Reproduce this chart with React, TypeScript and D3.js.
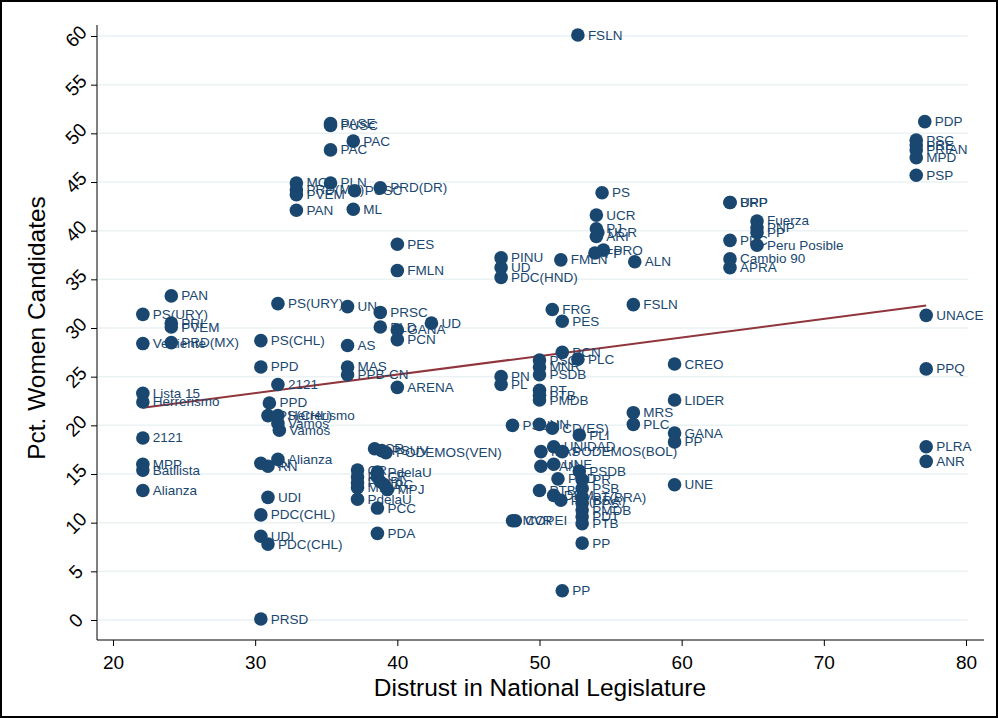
import React, { useEffect, useRef } from 'react';
import * as d3 from 'd3';

// party labels, distrust in legislature (x) and % women candidates (y)
const parties = [
  'PS(URY)', 'Vertiente', 'Lista 15', 'Herrerismo', '2121', 'MPP', 'Batllista', 'Alianza',
  'PAN', 'PRI', 'PVEM', 'PRD(MX)',
  'PS(CHL)', 'PPD', 'PDC(CHL)', 'UDI', 'PRSD', 'RN',
  'UDI', 'PDC(CHL)', 'PPD', 'PS(CHL)', 'RN',
  '2121', 'Alianza', 'PS(URY)', 'Herrerismo', 'Vamos', 'Vamos',
  'UN', 'AS', 'MAS', 'PPB-CN',
  'MC', 'PRD(MX)', 'PVEM', 'PAN',
  'PASE', 'PUSC', 'PAC', 'PLN', 'PAC', 'ML', 'PUSC',
  'PRD(DR)', 'PES', 'FMLN', 'PRSC', 'PLD', 'GANA', 'PCN', 'ARENA', 'UD',
  'CR', 'PSUV', 'PODEMOS(VEN)',
  'CR', 'PL', 'PC', 'MIRA', 'PdelaU', 'PdelaU', 'CR', 'PL', 'PC', 'MPJ', 'PCC', 'PDA',
  'PINU', 'UD', 'PDC(HND)', 'PN', 'PL',
  'FMLN', 'PS', 'UCR', 'PJ', 'UCR', 'ARI', 'FP', 'PRO', 'ALN',
  'FSLN', 'FSLN', 'FRG', 'PES', 'PCN', 'PLC',
  'PSC', 'MNR', 'PSDB', 'PT', 'PTB', 'PMDB',
  'PSUN', 'UN', 'CD(ES)', 'PLI', 'MAS', 'UNIDAD', 'PODEMOS(BOL)',
  'PAN', 'UNE', 'PRD', 'PSDB', 'PTB', 'DEM', 'PP(BRA)',
  'PR', 'PSB', 'PT(BRA)', 'PPS', 'PMDB', 'PDT', 'PTB', 'PP', 'PP',
  'MVR', 'COPEI',
  'CREO', 'LIDER', 'MRS', 'PLC', 'GANA', 'PP', 'UNE',
  'UPP', 'BRP', 'Fuerza', 'PNP', 'PP', 'PPC', 'Peru Posible', 'Cambio 90', 'APRA',
  'PDP', 'PSC', 'PRE', 'PRIAN', 'MPD', 'PSP',
  'UNACE', 'PPQ', 'PLRA', 'ANR'
];

const distrust = [
  22.1, 22.1, 22.1, 22.1, 22.1, 22.1, 22.1, 22.1,
  24.1, 24.1, 24.1, 24.1,
  30.4, 30.4, 30.4, 30.4, 30.4, 30.4,
  30.9, 30.9, 31.0, 30.9, 30.9,
  31.6, 31.6, 31.6, 31.6, 31.6, 31.7,
  36.5, 36.5, 36.5, 36.5,
  32.9, 32.9, 32.9, 32.9,
  35.3, 35.3, 35.3, 35.3, 36.9, 36.9, 37.0,
  38.8, 40.0, 40.0, 38.8, 38.8, 40.0, 40.0, 40.0, 42.4,
  38.4, 38.9, 39.2,
  37.2, 37.2, 37.2, 37.2, 37.2, 38.6, 38.6, 38.8, 39.1, 39.3, 38.6, 38.6,
  47.3, 47.3, 47.3, 47.3, 47.3,
  51.5, 54.4, 54.0, 54.0, 54.1, 54.0, 53.9, 54.5, 56.7,
  52.7, 56.6, 50.9, 51.6, 51.6, 52.7,
  50.0, 50.0, 50.0, 50.0, 50.0, 50.0,
  48.1, 50.0, 50.9, 52.8, 50.1, 51.0, 51.6,
  50.1, 51.0, 51.3, 52.8, 50.0, 51.0, 51.5,
  53.0, 53.0, 53.0, 53.0, 53.0, 53.0, 53.0, 53.0, 51.6,
  48.1, 48.3,
  59.5, 59.5, 56.6, 56.6, 59.5, 59.5, 59.5,
  63.4, 63.4, 65.3, 65.3, 65.3, 63.4, 65.3, 63.4, 63.4,
  77.1, 76.5, 76.5, 76.5, 76.5, 76.5,
  77.2, 77.2, 77.2, 77.2
];

const pctWomen = [
  31.4, 28.4, 23.3, 22.4, 18.7, 16.0, 15.4, 13.3,
  33.3, 30.5, 30.1, 28.5,
  28.7, 26.0, 10.8, 8.6, 0.1, 16.1,
  12.6, 7.8, 22.3, 21.0, 15.8,
  24.2, 16.5, 32.5, 21.0, 20.2, 19.5,
  32.2, 28.2, 26.0, 25.2,
  44.9, 44.2, 43.7, 42.1,
  51.0, 50.8, 48.3, 44.9, 49.2, 42.2, 44.1,
  44.4, 38.6, 35.9, 31.6, 30.1, 29.8, 28.8, 23.9, 30.5,
  17.6, 17.4, 17.2,
  15.4, 14.7, 14.1, 13.6, 12.4, 15.2, 14.7, 14.2, 13.9, 13.4, 11.5, 8.9,
  37.2, 36.2, 35.2, 25.0, 24.2,
  37.0, 43.9, 41.6, 40.2, 39.8, 39.4, 37.7, 38.0, 36.8,
  60.1, 32.4, 31.9, 30.7, 27.5, 26.8,
  26.7, 26.0, 25.2, 23.6, 23.1, 22.6,
  20.0, 20.1, 19.7, 19.0, 17.3, 17.8, 17.3,
  15.8, 16.0, 14.5, 15.3, 13.3, 12.8, 12.3,
  14.4, 13.5, 12.6, 12.0, 11.3, 10.6, 9.9, 7.9, 3.0,
  10.2, 10.2,
  26.3, 22.6, 21.3, 20.1, 19.2, 18.3, 13.9,
  42.9, 42.9, 41.0, 40.3, 39.8, 39.0, 38.5, 37.1, 36.2,
  51.2, 49.3, 48.8, 48.3, 47.5, 45.7,
  31.3, 25.8, 17.8, 16.3
];

const xTicks = [20, 30, 40, 50, 60, 70, 80];
const yTicks = [0, 5, 10, 15, 20, 25, 30, 35, 40, 45, 50, 55, 60];

// linear fit shown in the figure
const fitIntercept = 17.59;
const fitSlope = 0.1906;
const fitRange = [22.1, 77.2];

const W = 998;
const H = 718;
const navy = '#1a476f';
const font = '"Liberation Sans", Arial, sans-serif';

export default function App() {
  const ref = useRef<SVGSVGElement>(null);

  useEffect(() => {
    const svg = d3.select(ref.current);
    svg.selectAll('*').remove();

    const x = d3.scaleLinear().domain([20, 80]).range([113, 966]);
    const y = d3.scaleLinear().domain([0, 60]).range([620, 36]);

    svg.append('rect').attr('width', W).attr('height', H).attr('fill', '#fff');

    // grid
    svg.append('g')
      .selectAll('line')
      .data(yTicks)
      .join('line')
      .attr('x1', 98).attr('x2', 968)
      .attr('y1', d => y(d)).attr('y2', d => y(d))
      .attr('stroke', '#eaf2f3').attr('stroke-width', 1.5);

    // axes
    const yAxis = svg.append('g').attr('transform', 'translate(97,0)')
      .call(d3.axisLeft(y).tickValues(yTicks).tickSize(6).tickSizeOuter(0));
    yAxis.select('.domain').attr('stroke', '#000').attr('d', 'M0,25V640');
    yAxis.selectAll('line').attr('stroke', '#000');
    yAxis.selectAll('text')
      .attr('font-family', font).attr('font-size', 19).attr('fill', '#000')
      .attr('x', 0).attr('y', 0).attr('dy', 0)
      .attr('text-anchor', 'middle')
      .attr('dominant-baseline', 'central')
      .attr('transform', 'translate(-21,0) rotate(-45)');

    const xAxis = svg.append('g').attr('transform', 'translate(0,640)')
      .call(d3.axisBottom(x).tickValues(xTicks).tickSize(6).tickSizeOuter(0));
    xAxis.select('.domain').attr('stroke', '#000').attr('d', 'M97,0H984');
    xAxis.selectAll('line').attr('stroke', '#000');
    xAxis.selectAll('text')
      .attr('font-family', font).attr('font-size', 19).attr('fill', '#000').attr('dy', '1.05em');

    // fit line
    const line = d3.line<number>().x(d => x(d)).y(d => y(fitIntercept + fitSlope * d));
    svg.append('path').attr('d', line(fitRange)).attr('fill', 'none')
      .attr('stroke', '#90353b').attr('stroke-width', 2);

    const idx = d3.range(parties.length);
    const g = svg.append('g');
    g.selectAll('circle').data(idx).join('circle')
      .attr('cx', i => x(distrust[i])).attr('cy', i => y(pctWomen[i]))
      .attr('r', 6.8).attr('fill', navy);
    g.selectAll('text').data(idx).join('text')
      .attr('x', i => x(distrust[i]) + 10).attr('y', i => y(pctWomen[i]))
      .attr('dominant-baseline', 'central')
      .attr('font-family', font).attr('font-size', 13.5).attr('fill', navy)
      .text(i => parties[i]);

    // titles
    svg.append('text').attr('x', 540).attr('y', 696).attr('text-anchor', 'middle')
      .attr('font-family', font).attr('font-size', 24.5).text('Distrust in National Legislature');
    svg.append('text').attr('transform', 'translate(45,328) rotate(-90)').attr('text-anchor', 'middle')
      .attr('font-family', font).attr('font-size', 24.5).text('Pct. Women Candidates');

    svg.append('rect').attr('x', 1).attr('y', 1).attr('width', W - 2).attr('height', H - 2)
      .attr('fill', 'none').attr('stroke', '#000').attr('stroke-width', 2);
  }, []);

  return (
    <svg ref={ref} width={W} height={H} style={{ position: 'absolute', left: 0, top: 0 }} />
  );
}
